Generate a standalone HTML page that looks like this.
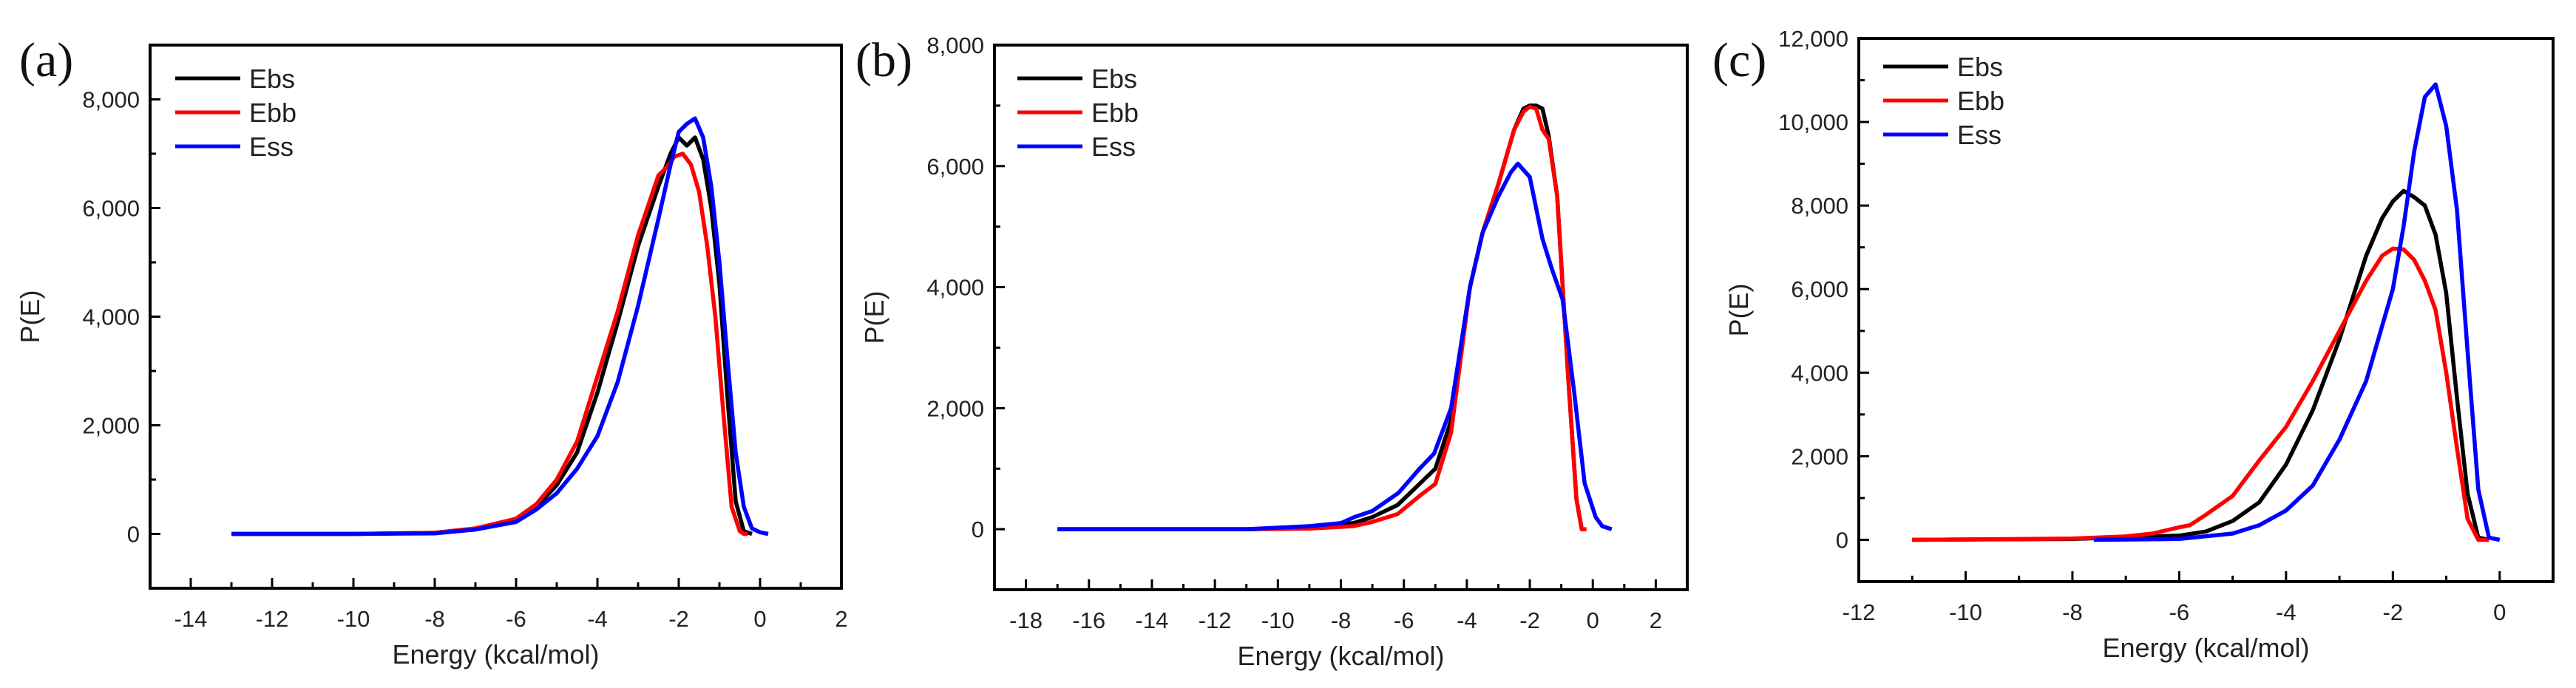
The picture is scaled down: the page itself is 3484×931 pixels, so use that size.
<!DOCTYPE html>
<html><head><meta charset="utf-8"><style>
html,body{margin:0;padding:0;background:#fff;}
svg{display:block;font-family:"Liberation Sans",Arial,sans-serif;}
</style></head><body>
<svg id="fig" width="3484" height="931" viewBox="0 0 3484 931" xmlns="http://www.w3.org/2000/svg"></svg>
<script>
// Panel (a) data: energy (kcal/mol) and P(E) in thousands
const aEbsX=[-13,-10,-8,-7,-6,-5.5,-5,-4.5,-4,-3.5,-3,-2.5,-2.2,-2,-1.8,-1.6,-1.4,-1.2,-1,-0.8,-0.6,-0.4,-0.2];
const aEbsY=[0,0,0.02,0.1,0.25,0.5,0.9,1.5,2.6,3.9,5.3,6.4,7.0,7.3,7.15,7.3,6.9,6.0,4.6,2.5,0.6,0.05,0];
const aEbbX=[-13,-10,-8,-7,-6,-5.5,-5,-4.5,-4,-3.5,-3,-2.5,-2.3,-2.1,-1.9,-1.7,-1.5,-1.3,-1.1,-0.9,-0.7,-0.5,-0.4,-0.3];
const aEbbY=[0,0,0.02,0.1,0.28,0.55,1.0,1.7,2.9,4.1,5.5,6.6,6.75,6.95,7.0,6.8,6.3,5.3,4.0,2.2,0.5,0.05,0,0];
const aEssX=[-13,-10,-8,-7,-6,-5.5,-5,-4.5,-4,-3.5,-3,-2.5,-2.2,-2,-1.8,-1.6,-1.4,-1.2,-1,-0.8,-0.6,-0.4,-0.2,0,0.2];
const aEssY=[0,0,0.01,0.08,0.22,0.45,0.75,1.2,1.8,2.8,4.2,5.8,6.8,7.4,7.55,7.65,7.3,6.4,5.0,3.2,1.5,0.5,0.1,0.03,0];
// Panel (b)
const bEbsX=[-17,-11,-9,-7.6,-7,-6.2,-5.5,-5,-4.5,-3.9,-3.5,-3,-2.5,-2.2,-2,-1.8,-1.6,-1.4,-1.13,-0.78,-0.52,-0.35];
const bEbsY=[0,0,0.02,0.1,0.2,0.4,0.75,1.0,1.8,4.0,4.9,5.7,6.6,6.95,7.0,7.0,6.95,6.5,5.5,2.5,0.5,0];
const bEbbX=[-17,-11,-9,-7.6,-7,-6.2,-5.5,-5,-4.5,-3.9,-3.5,-3,-2.5,-2.2,-2,-1.8,-1.6,-1.4,-1.13,-0.78,-0.52,-0.35,-0.2];
const bEbbY=[0,0,0.01,0.05,0.12,0.25,0.55,0.75,1.6,4.0,4.9,5.7,6.6,6.9,6.98,6.95,6.6,6.45,5.5,2.5,0.5,0,0];
const bEssX=[-17,-11,-9,-8,-7.57,-7,-6.17,-5.5,-5.04,-4.5,-3.9,-3.5,-3,-2.6,-2.38,-2,-1.6,-1.3,-0.96,-0.6,-0.26,0.09,0.3,0.6];
const bEssY=[0,0,0.05,0.1,0.2,0.3,0.6,1.0,1.25,2.0,4.0,4.9,5.5,5.9,6.04,5.82,4.8,4.3,3.8,2.3,0.76,0.2,0.05,0];
// Panel (c)
const cEbsX=[-11,-8,-6,-5.5,-5,-4.5,-4,-3.5,-3,-2.5,-2.2,-2,-1.8,-1.6,-1.4,-1.2,-1,-0.8,-0.6,-0.4,-0.2];
const cEbsY=[0,0.02,0.1,0.2,0.45,0.9,1.8,3.1,4.8,6.8,7.7,8.1,8.35,8.2,8.0,7.3,5.9,3.4,1.1,0.05,0];
const cEbbX=[-11,-8,-7,-6.5,-6,-5.8,-5.5,-5,-4.5,-4,-3.5,-3,-2.5,-2.2,-2,-1.8,-1.6,-1.4,-1.2,-1,-0.8,-0.6,-0.4,-0.2];
const cEbbY=[0,0.03,0.08,0.15,0.3,0.35,0.6,1.05,1.9,2.7,3.8,5.0,6.2,6.8,6.97,6.95,6.7,6.2,5.5,4.0,2.2,0.5,0,0];
const cEssX=[-7.6,-6,-5,-4.5,-4,-3.5,-3,-2.5,-2,-1.8,-1.6,-1.4,-1.2,-1,-0.8,-0.6,-0.4,-0.2,0];
const cEssY=[0,0.02,0.15,0.35,0.7,1.3,2.4,3.8,6.0,7.5,9.3,10.6,10.9,9.9,7.9,4.5,1.2,0.05,0];
// Tick labels
const aXTicks=[-14,-12,-10,-8,-6,-4,-2,0,2];
const bXTicks=[-18,-16,-14,-12,-10,-8,-6,-4,-2,0,2];
const cXTicks=[-12,-10,-8,-6,-4,-2,0];
const aYTicks=[0,2000,4000,6000,8000];
const bYTicks=[0,2000,4000,6000,8000];
const cYTicks=[0,2000,4000,6000,8000,10000,12000];
const seriesNames=["Ebs","Ebb","Ess"];
const seriesColors=["#000000","#ff0000","#0000ff"];

const NS="http://www.w3.org/2000/svg";
const svg=document.getElementById('fig');
function mk(tag,attrs,parent){const e=document.createElementNS(NS,tag);for(const k in attrs)e.setAttribute(k,attrs[k]);(parent||svg).appendChild(e);return e;}

const panels=[
 {id:'a',label:'(a)',lx:26,ly:103,box:[203,61,1138,796],xr:[-15,2],yr:[-1000,9000],xt:aXTicks,yt:aYTicks,xminor:1,yminor:1000,
  xs:[aEbsX,aEbbX,aEssX],ys:[aEbsY,aEbbY,aEssY],legX:237,legY:106},
 {id:'b',label:'(b)',lx:1157,ly:103,box:[1345,61,2282,798],xr:[-19,3],yr:[-1000,8000],xt:bXTicks,yt:bYTicks,xminor:1,yminor:1000,
  xs:[bEbsX,bEbbX,bEssX],ys:[bEbsY,bEbbY,bEssY],legX:1376,legY:106},
 {id:'c',label:'(c)',lx:2316,ly:103,box:[2514,52,3453,787],xr:[-12,1],yr:[-1000,12000],xt:cXTicks,yt:cYTicks,xminor:1,yminor:1000,
  xs:[cEbsX,cEbbX,cEssX],ys:[cEbsY,cEbbY,cEssY],legX:2547,legY:90}
];

panels.forEach(p=>{
 const g=mk('g',{});
 
 
 const [x0,y0,x1,y1]=p.box;
 const sx=v=>x0+(v-p.xr[0])/(p.xr[1]-p.xr[0])*(x1-x0);
 const sy=v=>y1-(v-p.yr[0])/(p.yr[1]-p.yr[0])*(y1-y0);
 const lab=mk('text',{x:p.lx,y:p.ly,'font-size':66,'font-family':'"Liberation Serif",serif',fill:'#111'},g);
 lab.textContent=p.label;
 
 
 p.xs.forEach((xa,i)=>{
  const d=xa.map((x,j)=>(j?'L':'M')+sx(x).toFixed(1)+','+sy(p.ys[i][j]*1000).toFixed(1)).join('');
  const path=mk('path',{d:d,fill:'none',stroke:seriesColors[i],'stroke-width':5.5,'stroke-linejoin':'round'},g);
  
  
 });
 const box=mk('rect',{x:x0,y:y0,width:x1-x0,height:y1-y0,fill:'none',stroke:'#000','stroke-width':4},g);
 
 
 for(let v=Math.ceil(p.xr[0]);v<=p.xr[1];v+=p.xminor){
  const major=p.xt.includes(v);
  const t=mk('line',{x1:sx(v),x2:sx(v),y1:y1,y2:y1-(major?14:8),stroke:'#000','stroke-width':3},g);
  
  
 }
 p.xt.forEach(v=>{
  const t=mk('text',{x:sx(v),y:y1+52,'text-anchor':'middle','font-size':31,fill:'#222'},g);
  t.textContent=String(v);
  
  
 });
 for(let v=p.yr[0];v<=p.yr[1];v+=p.yminor){
  if(v<0)continue;
  const major=p.yt.includes(v);
  const t=mk('line',{x1:x0,x2:x0+(major?14:8),y1:sy(v),y2:sy(v),stroke:'#000','stroke-width':3},g);
  
  
 }
 p.yt.forEach(v=>{
  const t=mk('text',{x:x0-14,y:sy(v)+11,'text-anchor':'end','font-size':31,fill:'#222'},g);
  t.textContent=v.toLocaleString('en-US');
  
  
 });
 const xt=mk('text',{x:(x0+x1)/2,y:y1+102,'text-anchor':'middle','font-size':36,fill:'#222'},g);
 xt.textContent='Energy (kcal/mol)';
 
 
 const yx=x0-150, yy=(y0+y1)/2;
 const yt=mk('text',{x:yx,y:yy,'text-anchor':'middle','font-size':36,fill:'#222',transform:`rotate(-90 ${yx} ${yy})`},g);
 yt.textContent='P(E)';
 
 
 seriesNames.forEach((n,i)=>{
  const ly=p.legY+i*46;
  const l=mk('line',{x1:p.legX,x2:p.legX+88,y1:ly,y2:ly,stroke:seriesColors[i],'stroke-width':5},g);
  
  
  const t=mk('text',{x:p.legX+100,y:ly+13,'font-size':36,fill:'#222'},g);
  t.textContent=n;
  
  
 });
});
</script>
</body></html>
